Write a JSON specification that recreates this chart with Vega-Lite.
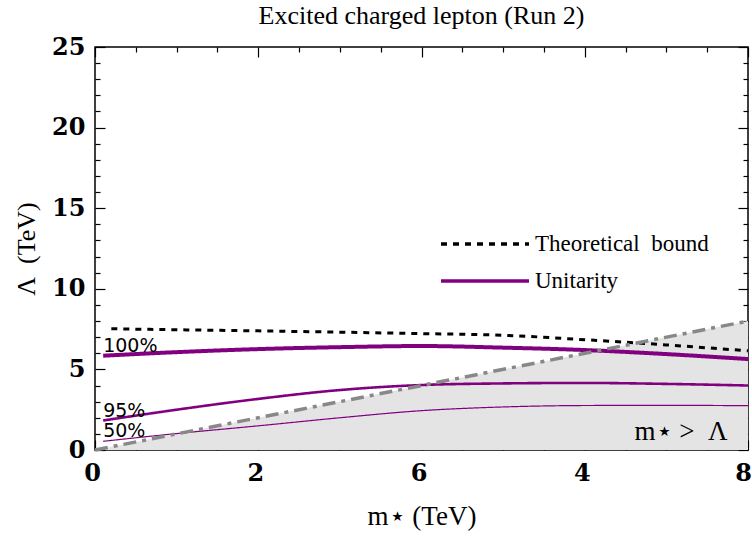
{
  "$schema": "https://vega.github.io/schema/vega-lite/v6.json",
  "width": 653,
  "height": 403,
  "autosize": {"type": "none"},
  "padding": {"left": 95, "top": 47, "right": 4, "bottom": 88},
  "background": "white",
  "title": {
    "text": "Excited charged lepton (Run 2)",
    "font": "Liberation Serif",
    "fontSize": 26,
    "fontWeight": "normal",
    "color": "black",
    "anchor": "middle",
    "offset": 6
  },
  "config": {
    "view": {"stroke": "black", "strokeWidth": 1.5},
    "axis": {
      "domain": false,
      "grid": false,
      "tickColor": "black",
      "tickWidth": 1.2,
      "labelColor": "black",
      "titleColor": "black"
    }
  },
  "datasets": {
    "curves": [
      {"series": "Theoretical bound", "level": "bound", "m": 0.2, "lambda": 7.52},
      {"series": "Theoretical bound", "level": "bound", "m": 1, "lambda": 7.46},
      {"series": "Theoretical bound", "level": "bound", "m": 2, "lambda": 7.39},
      {"series": "Theoretical bound", "level": "bound", "m": 3, "lambda": 7.31},
      {"series": "Theoretical bound", "level": "bound", "m": 4, "lambda": 7.22},
      {"series": "Theoretical bound", "level": "bound", "m": 5, "lambda": 7.12},
      {"series": "Theoretical bound", "level": "bound", "m": 6, "lambda": 6.84},
      {"series": "Theoretical bound", "level": "bound", "m": 7, "lambda": 6.52},
      {"series": "Theoretical bound", "level": "bound", "m": 8, "lambda": 6.15},
      {"series": "Unitarity", "level": "100%", "m": 0.1, "lambda": 5.85},
      {"series": "Unitarity", "level": "100%", "m": 1, "lambda": 6.07},
      {"series": "Unitarity", "level": "100%", "m": 2, "lambda": 6.26},
      {"series": "Unitarity", "level": "100%", "m": 3, "lambda": 6.38},
      {"series": "Unitarity", "level": "100%", "m": 4, "lambda": 6.45},
      {"series": "Unitarity", "level": "100%", "m": 5, "lambda": 6.35},
      {"series": "Unitarity", "level": "100%", "m": 6, "lambda": 6.2},
      {"series": "Unitarity", "level": "100%", "m": 7, "lambda": 5.95},
      {"series": "Unitarity", "level": "100%", "m": 8, "lambda": 5.64},
      {"series": "Unitarity", "level": "95%", "m": 0.1, "lambda": 1.83},
      {"series": "Unitarity", "level": "95%", "m": 1, "lambda": 2.5},
      {"series": "Unitarity", "level": "95%", "m": 2, "lambda": 3.17},
      {"series": "Unitarity", "level": "95%", "m": 3, "lambda": 3.72},
      {"series": "Unitarity", "level": "95%", "m": 4, "lambda": 4.03},
      {"series": "Unitarity", "level": "95%", "m": 5, "lambda": 4.13},
      {"series": "Unitarity", "level": "95%", "m": 6, "lambda": 4.16},
      {"series": "Unitarity", "level": "95%", "m": 7, "lambda": 4.1},
      {"series": "Unitarity", "level": "95%", "m": 8, "lambda": 4.0},
      {"series": "Unitarity", "level": "50%", "m": 0.1, "lambda": 0.54},
      {"series": "Unitarity", "level": "50%", "m": 1, "lambda": 1.02},
      {"series": "Unitarity", "level": "50%", "m": 2, "lambda": 1.5},
      {"series": "Unitarity", "level": "50%", "m": 3, "lambda": 2.0},
      {"series": "Unitarity", "level": "50%", "m": 4, "lambda": 2.44},
      {"series": "Unitarity", "level": "50%", "m": 5, "lambda": 2.67},
      {"series": "Unitarity", "level": "50%", "m": 6, "lambda": 2.76},
      {"series": "Unitarity", "level": "50%", "m": 7, "lambda": 2.77},
      {"series": "Unitarity", "level": "50%", "m": 8, "lambda": 2.75}
    ],
    "diagonal": [
      {"m": 0, "lambda": 0},
      {"m": 8, "lambda": 8}
    ]
  },
  "layer": [
    {
      "data": {"name": "diagonal"},
      "mark": {"type": "area", "color": "#e4e4e4"},
      "encoding": {
        "x": {
          "field": "m",
          "type": "quantitative",
          "scale": {"domain": [0, 8], "nice": false},
          "axis": {
            "orient": "bottom",
            "values": [0, 0.5, 1, 1.5, 2, 2.5, 3, 3.5, 4, 4.5, 5, 5.5, 6, 6.5, 7, 7.5, 8],
            "tickSize": {"condition": {"test": "datum.value % 2 === 0", "value": -10}, "value": -5},
            "labelExpr": "datum.value === 0 ? '0' : datum.value === 2 ? '2' : datum.value === 4 ? '6' : datum.value === 6 ? '4' : datum.value === 8 ? '8' : ''",
            "labelFont": "DejaVu Serif",
            "labelFontWeight": "bold",
            "labelFontSize": 24,
            "labelPadding": 21,
            "labelOffset": {"condition": {"test": "datum.value === 8", "value": -5}, "value": -3},
            "labelFlush": false,
            "labelOverlap": false,
            "labelBound": false,
            "title": "m⋆ (TeV)",
            "titleFont": "Liberation Serif",
            "titleFontSize": 27,
            "titleFontWeight": "normal",
            "titlePadding": 13
          }
        },
        "y": {
          "field": "lambda",
          "type": "quantitative",
          "scale": {"domain": [0, 25], "nice": false},
          "axis": {
            "orient": "left",
            "values": [0, 1, 2, 3, 4, 5, 6, 7, 8, 9, 10, 11, 12, 13, 14, 15, 16, 17, 18, 19, 20, 21, 22, 23, 24, 25],
            "tickSize": {"condition": {"test": "datum.value % 5 === 0", "value": -10}, "value": -5},
            "labelExpr": "datum.value % 5 === 0 ? datum.label : ''",
            "labelFont": "DejaVu Serif",
            "labelFontWeight": "bold",
            "labelFontSize": 24,
            "labelPadding": 20,
            "labelOverlap": false,
            "labelBound": false,
            "title": "Λ\u00a0\u00a0(TeV)",
            "titleFont": "Liberation Serif",
            "titleFontSize": 26,
            "titleFontWeight": "normal",
            "titlePadding": 12
          }
        }
      }
    },
    {
      "data": {"name": "curves"},
      "mark": {"type": "line", "interpolate": "monotone"},
      "encoding": {
        "x": {"field": "m", "type": "quantitative", "axis": null},
        "y": {"field": "lambda", "type": "quantitative", "axis": null},
        "detail": {"field": "level"},
        "color": {
          "field": "series",
          "type": "nominal",
          "scale": {"domain": ["Theoretical bound", "Unitarity"], "range": ["black", "#800080"]},
          "legend": {
            "orient": "none",
            "legendX": 377,
            "legendY": 184,
            "title": null,
            "symbolType": "M-4,0H4",
            "symbolSize": 484,
            "symbolStrokeWidth": 3.5,
            "labelFont": "Liberation Serif",
            "labelFontSize": 23,
            "labelColor": "black",
            "labelOffset": 37,
            "labelLimit": 400,
            "labelExpr": "datum.label === 'Theoretical bound' ? 'Theoretical\u00a0\u00a0bound' : datum.label",
            "rowPadding": 12
          }
        },
        "strokeDash": {
          "field": "series",
          "type": "nominal",
          "scale": {"domain": ["Theoretical bound", "Unitarity"], "range": [[6, 6], [1, 0]]},
          "legend": {
            "orient": "none",
            "legendX": 377,
            "legendY": 184,
            "title": null,
            "symbolType": "M-4,0H4",
            "symbolSize": 484,
            "symbolStrokeWidth": 3.5,
            "labelFont": "Liberation Serif",
            "labelFontSize": 23,
            "labelColor": "black",
            "labelOffset": 37,
            "labelLimit": 400,
            "labelExpr": "datum.label === 'Theoretical bound' ? 'Theoretical\u00a0\u00a0bound' : datum.label",
            "rowPadding": 12
          }
        },
        "strokeWidth": {
          "condition": [
            {"test": "datum.level === '100%'", "value": 4},
            {"test": "datum.level === '95%'", "value": 2.6},
            {"test": "datum.level === '50%'", "value": 1.2}
          ],
          "value": 3
        }
      }
    },
    {
      "data": {"name": "curves"},
      "transform": [{"filter": "datum.series === 'Unitarity' && datum.m === 0.1"}],
      "mark": {
        "type": "text",
        "align": "left",
        "baseline": "alphabetic",
        "dy": -4,
        "font": "DejaVu Sans",
        "fontWeight": "normal",
        "fontSize": 19,
        "color": "black"
      },
      "encoding": {
        "x": {"field": "m", "type": "quantitative", "axis": null},
        "y": {"field": "lambda", "type": "quantitative", "axis": null},
        "text": {"field": "level"}
      }
    },
    {
      "data": {"name": "diagonal"},
      "mark": {"type": "line", "color": "#888888", "strokeWidth": 3.5, "strokeDash": [13, 6, 4, 6]},
      "encoding": {
        "x": {
          "field": "m",
          "type": "quantitative",
          "axis": {
            "orient": "top",
            "values": [0, 0.5, 1, 1.5, 2, 2.5, 3, 3.5, 4, 4.5, 5, 5.5, 6, 6.5, 7, 7.5, 8],
            "tickSize": {"condition": {"test": "datum.value % 2 === 0", "value": -10}, "value": -5},
            "labels": false,
            "title": null
          }
        },
        "y": {
          "field": "lambda",
          "type": "quantitative",
          "axis": {
            "orient": "right",
            "values": [0, 1, 2, 3, 4, 5, 6, 7, 8, 9, 10, 11, 12, 13, 14, 15, 16, 17, 18, 19, 20, 21, 22, 23, 24, 25],
            "tickSize": {"condition": {"test": "datum.value % 5 === 0", "value": -10}, "value": -5},
            "labels": false,
            "title": null
          }
        }
      }
    },
    {
      "data": {"values": [{}]},
      "mark": {
        "type": "text",
        "text": "m⋆ >\u00a0\u00a0Λ",
        "align": "right",
        "baseline": "alphabetic",
        "font": "Liberation Serif",
        "fontSize": 27,
        "color": "black"
      },
      "encoding": {
        "x": {"datum": 7.75, "type": "quantitative", "axis": null},
        "y": {"datum": 0.6, "type": "quantitative", "axis": null}
      }
    }
  ],
  "resolve": {"axis": {"x": "independent", "y": "independent"}}
}
